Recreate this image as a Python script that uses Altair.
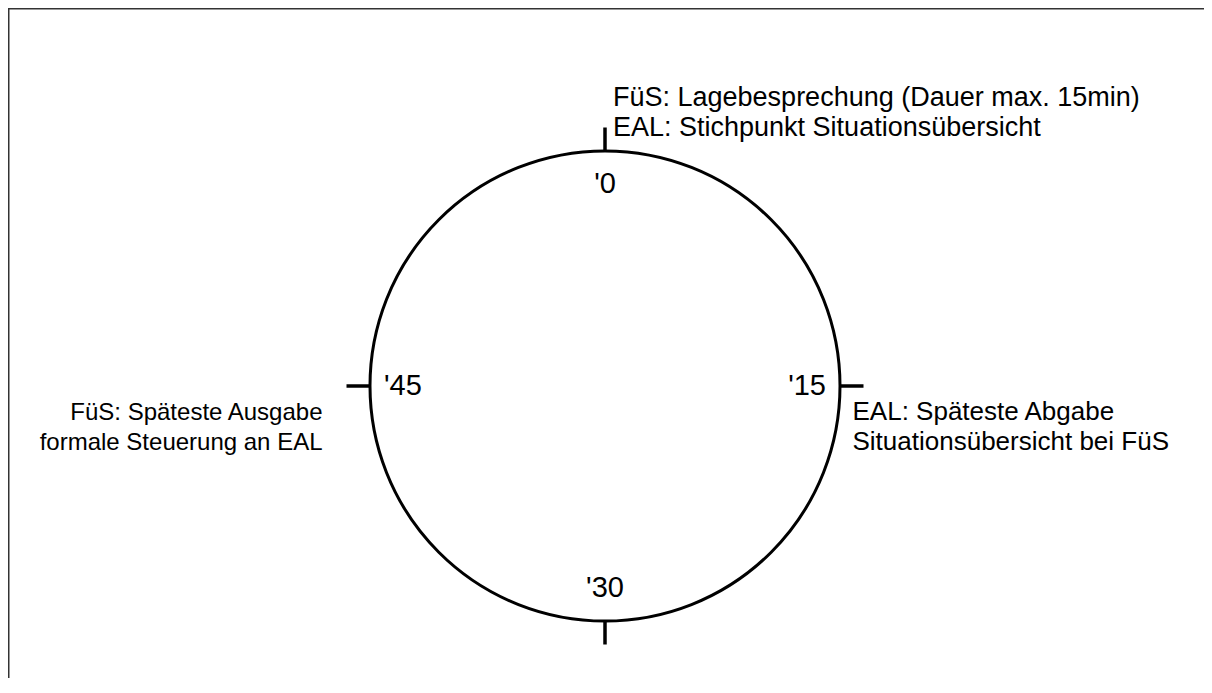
import altair as alt
import numpy as np
import pandas as pd

# ---- data ----
minutes = [0, 15, 30, 45]
minute_labels = ["'0", "'15", "'30", "'45"]
annot_minutes = [0, 15, 45]
annot_texts = [
    "FüS: Lagebesprechung (Dauer max. 15min)\nEAL: Stichpunkt Situationsübersicht",
    "EAL: Späteste Abgabe\nSituationsübersicht bei FüS",
    "FüS: Späteste Ausgabe\nformale Steuerung an EAL",
]

# ---- layout ----
W, H = 1196, 670
R_PX = 235.0           # clock radius in pixels (1 data unit)
CX, CY = 597.0, 378.0  # clock centre inside plot area (px)
TICK = 1.10
LABEL_R = 0.86
FONT = "Liberation Sans"

xdom = [-CX / R_PX, (W - CX) / R_PX]
ydom = [-(H - CY) / R_PX, CY / R_PX]
xs = alt.Scale(domain=xdom, nice=False, zero=False)
ys = alt.Scale(domain=ydom, nice=False, zero=False)

def ang(m):
    return np.array(m) / 60.0 * 2 * np.pi

t = ang(minutes)
ticks = pd.DataFrame({
    "minute": minutes,
    "label": minute_labels,
    "x": np.sin(t), "y": np.cos(t),
    "x2": np.sin(t) * TICK, "y2": np.cos(t) * TICK,
    "lx": np.sin(t) * LABEL_R, "ly": np.cos(t) * LABEL_R,
})
ta = ang(annot_minutes)
ann = pd.DataFrame({
    "minute": annot_minutes,
    "text": annot_texts,
    "x": np.sin(ta) * TICK, "y": np.cos(ta) * TICK,
})
centre = pd.DataFrame({"x": [0.0], "y": [0.0]})

X = lambda f: alt.X(f, type="quantitative", scale=xs, axis=None)
Y = lambda f: alt.Y(f, type="quantitative", scale=ys, axis=None)

circle = alt.Chart(centre).mark_point(
    shape="circle", filled=False, stroke="black", strokeWidth=3, opacity=1,
    size=float((2 * R_PX) ** 2),
).encode(x=X("x"), y=Y("y"))

tick_rules = alt.Chart(ticks).mark_rule(stroke="black", strokeWidth=3.5).encode(
    x=X("x"), y=Y("y"), x2="x2:Q", y2="y2:Q"
)

labels = alt.Chart(ticks).mark_text(
    font=FONT, fontSize=29, color="black", align="center", baseline="middle"
).encode(x=X("lx"), y=Y("ly"), text="label:N")

def annot(minute, align, dx, dy, size):
    return alt.Chart(ann).transform_filter(alt.datum.minute == minute).mark_text(
        font=FONT, fontSize=size, color="black", align=align, baseline="middle",
        lineBreak="\n", lineHeight=30, dx=dx, dy=dy,
    ).encode(x=X("x"), y=Y("y"), text="text:N")

a_top = annot(0, "left", 8, -30, 27)
a_right = annot(15, "left", -11, 26, 26)
a_left = annot(45, "right", -24, 27, 24)

frame_top = alt.Chart(centre).mark_rule(stroke="#333333", strokeWidth=1.5).encode(
    x=alt.value(0), x2=alt.value(W + 10), y=alt.value(0.75)
)
frame_left = alt.Chart(centre).mark_rule(stroke="#333333", strokeWidth=1.5).encode(
    y=alt.value(0), y2=alt.value(H + 10), x=alt.value(0.75)
)

chart = alt.layer(
    frame_top, frame_left, circle, tick_rules, labels, a_top, a_right, a_left
).properties(
    width=W, height=H, autosize="none", padding=0, background="white"
).configure_view(stroke=None)

chart.save("out.html", embed_options={"renderer": "svg", "actions": False})
